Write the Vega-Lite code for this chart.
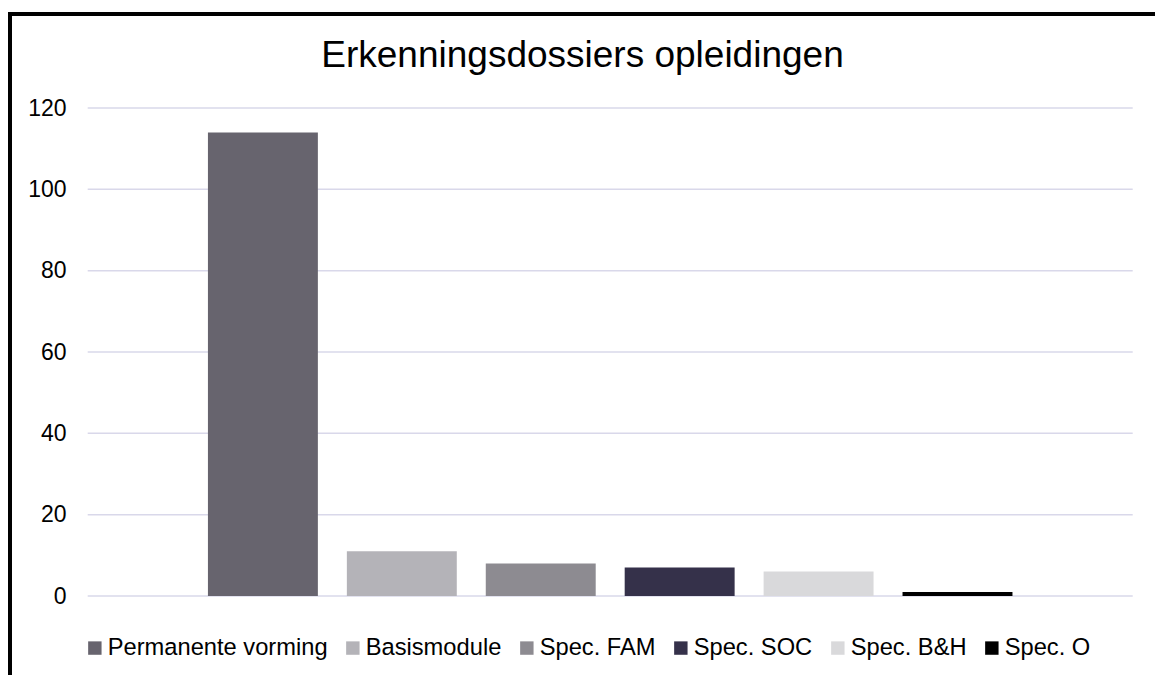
{
  "$schema": "https://vega.github.io/schema/vega-lite/v6.json",
  "width": 1145,
  "height": 661,
  "autosize": {"type": "none"},
  "padding": {"left": 10, "top": 14, "right": 0, "bottom": 0},
  "background": "white",
  "config": {
    "view": {"stroke": "#000000", "strokeWidth": 4, "strokeDash": [1145, 1806, 661], "strokeCap": "square"},
    "font": "Liberation Sans"
  },
  "title": {
    "text": "Erkenningsdossiers opleidingen",
    "fontSize": 37,
    "fontWeight": "normal",
    "color": "#000000",
    "font": "Liberation Sans",
    "anchor": "middle",
    "baseline": "alphabetic",
    "offset": -90
  },
  "datasets": {
    "bars": [
      {"category": "Permanente vorming", "count": 114},
      {"category": "Basismodule", "count": 11},
      {"category": "Spec. FAM", "count": 8},
      {"category": "Spec. SOC", "count": 7},
      {"category": "Spec. B&H", "count": 6},
      {"category": "Spec. O", "count": 1}
    ],
    "grid": [
      {"v": 0}, {"v": 20}, {"v": 40}, {"v": 60}, {"v": 80}, {"v": 100}, {"v": 120}
    ]
  },
  "layer": [
    {
      "data": {"name": "grid"},
      "mark": {"type": "rule", "color": "#D9D8EA", "strokeWidth": 1.5},
      "encoding": {
        "y": {
          "field": "v",
          "type": "quantitative",
          "scale": {"domain": [0, 120], "range": [582, 94], "nice": false, "zero": true},
          "axis": {
            "orient": "left",
            "offset": -60,
            "labelPadding": 4,
            "domain": false,
            "ticks": false,
            "grid": false,
            "title": null,
            "values": [0, 20, 40, 60, 80, 100, 120],
            "labelFontSize": 23,
            "labelColor": "#000000",
            "labelFont": "Liberation Sans"
          }
        },
        "x": {"datum": 0, "type": "quantitative", "scale": {"domain": [0, 1], "range": [77.7, 1122.7], "nice": false, "zero": false}, "axis": null},
        "x2": {"datum": 1}
      }
    },
    {
      "data": {"name": "bars"},
      "mark": {"type": "bar"},
      "encoding": {
        "x": {
          "field": "category",
          "type": "nominal",
          "sort": null,
          "scale": {"range": [77.7, 1122.7], "paddingInner": 0.2086, "paddingOuter": 0.8655},
          "axis": null
        },
        "y": {
          "field": "count",
          "type": "quantitative",
          "scale": {"domain": [0, 120], "range": [582, 94], "nice": false, "zero": true},
          "axis": {
            "orient": "left",
            "offset": -60,
            "labelPadding": 4,
            "domain": false,
            "ticks": false,
            "grid": false,
            "title": null,
            "values": [0, 20, 40, 60, 80, 100, 120],
            "labelFontSize": 23,
            "labelColor": "#000000",
            "labelFont": "Liberation Sans"
          }
        },
        "color": {
          "field": "category",
          "type": "nominal",
          "sort": null,
          "scale": {
            "domain": ["Permanente vorming", "Basismodule", "Spec. FAM", "Spec. SOC", "Spec. B&H", "Spec. O"],
            "range": ["#67646E", "#B4B3B8", "#8D8B91", "#35314A", "#D9D9DB", "#000000"]
          },
          "legend": {
            "orient": "none",
            "legendX": 73,
            "legendY": 622,
            "direction": "horizontal",
            "title": null,
            "symbolType": "square",
            "symbolSize": 180,
            "symbolStrokeWidth": 0,
            "symbolOpacity": 1,
            "labelFontSize": 23.7,
            "labelFont": "Liberation Sans",
            "labelColor": "#000000",
            "labelOffset": 1,
            "columnPadding": 13,
            "padding": 0,
            "labelLimit": 400
          }
        }
      }
    }
  ],
  "resolve": {"scale": {"x": "independent"}}
}
